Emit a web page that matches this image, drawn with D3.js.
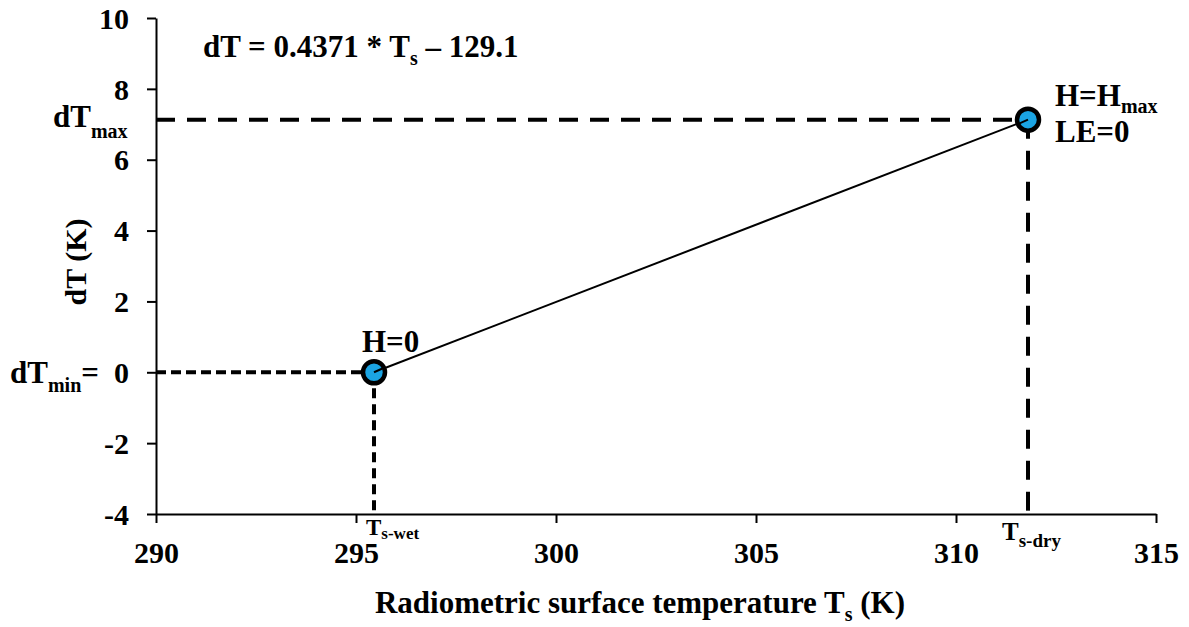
<!DOCTYPE html>
<html>
<head>
<meta charset="utf-8">
<script src="https://cdn.jsdelivr.net/npm/d3@7"></script>
<style>
  body { margin: 0; background: #fff; }
  svg text { font-family: "Liberation Serif", "Times New Roman", serif; font-weight: bold; fill: #000; }
</style>
</head>
<body>
<div id="chart"></div>
<script>
(function () {
  const width = 1189, height = 627;
  const margin = { top: 18, right: 33, bottom: 113, left: 156 };

  // data
  const xTicks = [290, 295, 300, 305, 310, 315];
  const yTicks = [-4, -2, 0, 2, 4, 6, 8, 10];
  const slope = 0.4371, intercept = -129.1;
  const tsWet = 295.45, tsDry = 311.8;
  const dTmin = 0, dTmax = 7.13;
  const endPoints = [[tsWet, dTmin], [tsDry, dTmax]];

  const svg = d3.select("#chart").append("svg")
    .attr("width", width).attr("height", height);

  const x = d3.scaleLinear().domain([290, 315]).range([margin.left, width - margin.right]);
  const y = d3.scaleLinear().domain([-4, 10]).range([height - margin.bottom, margin.top]);

  // axes
  const xAxis = svg.append("g")
    .attr("transform", `translate(0,${y(-4)})`)
    .call(d3.axisBottom(x).tickValues(xTicks).tickFormat(d => String(d))
      .tickSize(9).tickSizeOuter(0).tickPadding(19));
  const yAxis = svg.append("g")
    .attr("transform", `translate(${x(290)},0)`)
    .call(d3.axisLeft(y).tickValues(yTicks).tickFormat(d => String(d))
      .tickSize(9).tickSizeOuter(0).tickPadding(18));

  [xAxis, yAxis].forEach(g => {
    g.attr("font-family", null);
    g.select(".domain").attr("stroke", "#000").attr("stroke-width", 2);
    g.selectAll(".tick line").attr("stroke", "#000").attr("stroke-width", 2);
    g.selectAll(".tick text").style("font-size", "30px")
      .style("font-family", "'Liberation Serif', 'Times New Roman', serif").style("font-weight", "bold");
  });
  yAxis.selectAll(".tick text").attr("dy", "0.34em");

  // dashed guides
  const guides = [
    { x1: 290, y1: dTmax, x2: tsDry, y2: dTmax, dash: "19,12" },
    { x1: tsDry, y1: dTmax, x2: tsDry, y2: -4, dash: "19,12" },
    { x1: 290, y1: dTmin, x2: tsWet, y2: dTmin, dash: "10,5" },
    { x1: tsWet, y1: dTmin, x2: tsWet, y2: -4, dash: "10,6" }
  ];
  svg.selectAll("line.guide")
    .data(guides)
    .join("line")
      .attr("class", "guide")
      .attr("x1", d => x(d.x1)).attr("y1", d => y(d.y1))
      .attr("x2", d => x(d.x2)).attr("y2", d => y(d.y2))
      .attr("stroke", "#000").attr("stroke-width", 4)
      .attr("stroke-dasharray", d => d.dash);

  // regression line
  const line = d3.line().x(d => x(d[0])).y(d => y(d[1]));
  svg.append("path")
    .datum(endPoints)
    .attr("d", line).attr("fill", "none").attr("stroke", "#000").attr("stroke-width", 2);

  svg.selectAll("circle.pt")
    .data(endPoints)
    .join("circle")
      .attr("class", "pt")
      .attr("cx", d => x(d[0])).attr("cy", d => y(d[1]))
      .attr("r", 11)
      .attr("fill", "#1ba4e3").attr("stroke", "#000").attr("stroke-width", 4.5);

  // short line stub inside markers
  svg.selectAll("line.stub")
    .data(endPoints)
    .join("line")
      .attr("class", "stub")
      .attr("x1", d => x(d[0])).attr("y1", d => y(d[1]))
      .attr("x2", (d, i) => x(d[0]) + (i === 0 ? 9 : -9))
      .attr("y2", (d, i) => y(d[1]) + (i === 0 ? -4 : 4))
      .attr("stroke", "#000").attr("stroke-width", 2);

  // text with subscripts: parts = [text, size, baseline shift]
  function label(xp, yp, parts, anchor) {
    const t = svg.append("text").attr("x", xp).attr("y", yp)
      .attr("text-anchor", anchor || "start");
    let prev = 0;
    parts.forEach(p => {
      const shift = p[2] || 0;
      t.append("tspan").text(p[0]).style("font-size", p[1] + "px")
        .attr("dy", shift - prev);
      prev = shift;
    });
    return t;
  }

  label(203, 57, [["dT = 0.4371 * T", 31], ["s", 20, 8], ["\u00a0\u2013 129.1", 31]]);
  label(53, 127, [["dT", 31], ["max", 20, 11]]);
  label(10, 383, [["dT", 31], ["min", 20, 9], ["=", 31, 0]]);
  label(1055, 106, [["H=H", 31], ["max", 20, 7]]);
  label(1055, 142, [["LE=0", 31]]);
  label(362, 352, [["H=0", 31]]);
  label(366, 535, [["T", 23], ["s-wet", 17, 4]]);
  label(1002, 540, [["T", 25], ["s-dry", 19, 7]]);

  // axis titles
  label(640, 613, [["Radiometric surface temperature T", 31], ["s", 20, 8], [" (K)", 31]], "middle");
  svg.append("text")
    .attr("transform", "translate(86,262) rotate(-90)")
    .attr("text-anchor", "middle")
    .style("font-size", "30px")
    .text("dT (K)");
})();
</script>
</body>
</html>
